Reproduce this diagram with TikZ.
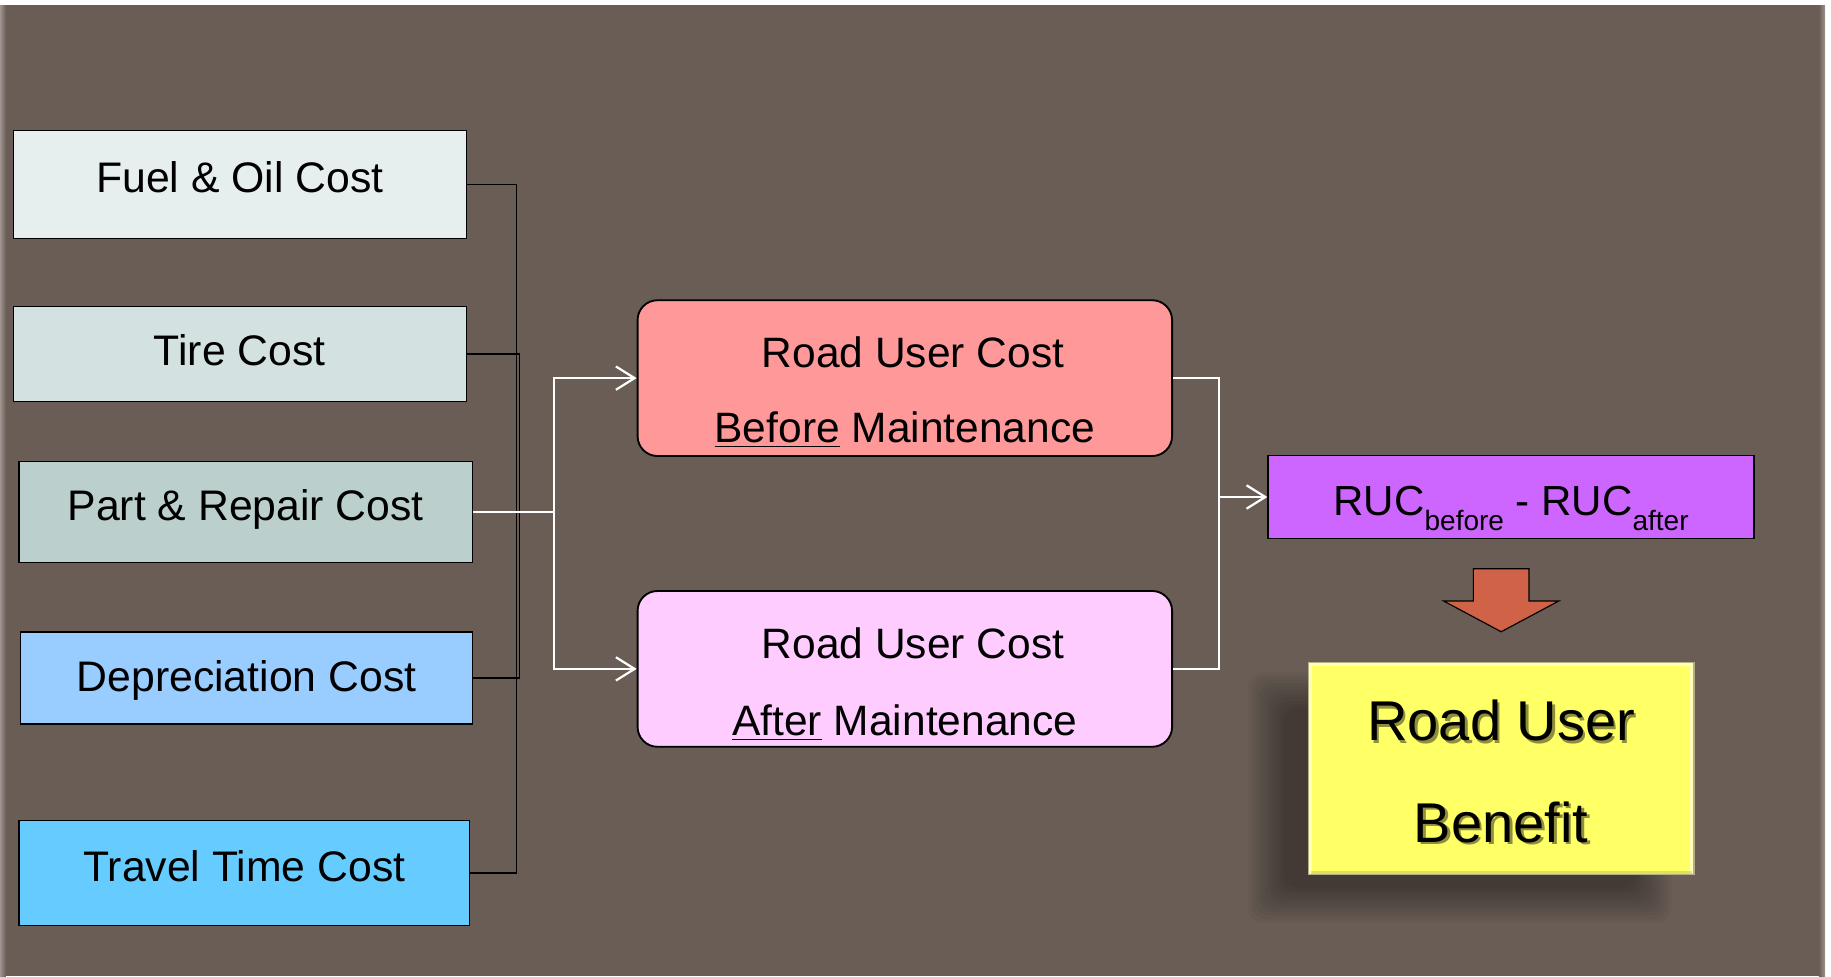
\documentclass[tikz,border=0pt]{standalone}
\usepackage{fontspec}
\setmainfont{Liberation Sans}
\usetikzlibrary{arrows.meta,calc}

\definecolor{bgbrown}{HTML}{695D55}
\definecolor{bevel}{HTML}{A09590}
\definecolor{fuelc}{HTML}{E6EFEE}
\definecolor{tirec}{HTML}{D3E1E0}
\definecolor{partc}{HTML}{BBCFCC}
\definecolor{depc}{HTML}{99CCFF}
\definecolor{travelc}{HTML}{66CCFF}
\definecolor{beforec}{HTML}{FF9999}
\definecolor{afterc}{HTML}{FFCCFF}
\definecolor{rucc}{HTML}{CC66FF}
\definecolor{benefitc}{HTML}{FFFF66}
\definecolor{benefitedge}{HTML}{B4AE84}
\definecolor{blockc}{HTML}{D06248}
\definecolor{textshade}{HTML}{8E8E3C}

% lowered, smaller subscript text
\newcommand\lowsub[1]{\raisebox{-6.4pt}{\fontsize{12}{12}\selectfont #1}}
% text with a soft offset shade behind it
\newcommand\shadetext[1]{\leavevmode\rlap{\hspace{1.1pt}\raisebox{-1.1pt}{\textcolor{textshade}{#1}}}#1}

\begin{document}
\begin{tikzpicture}[x=0.5pt,y=-0.5pt,
  costbox/.style={draw=black,line width=0.6pt,inner sep=0pt,anchor=north west,
    font=\fontsize{18.3}{22}\selectfont,text height=12pt,text depth=5pt},
  rucbox/.style={draw=black,line width=0.8pt,rounded corners=8.5pt,inner sep=0pt,
    anchor=north west,align=center,minimum width=228.85pt,minimum height=66.7pt},
  busline/.style={draw=black,line width=0.65pt},
  flowline/.style={draw=white,line width=0.95pt},
  flowarrow/.style={flowline,-{Straight Barb[length=8pt,width=10pt]}},
]
\useasboundingbox (0,0) rectangle (1568,836);

% page background with bevelled side edges
\fill[white] (0,0) rectangle (1568,836);
\fill[bgbrown] (0,4.3) rectangle (1563,836);
\shade[left color=bevel,right color=bgbrown] (0,4.3) rectangle (5,836);
\shade[left color=bgbrown,right color=bevel] (1557.5,4.3) rectangle (1563,836);

% cost components
\node[costbox,fill=fuelc,minimum width=194pt,minimum height=46.25pt] (fuel) at (10.8,111.3) {Fuel \& Oil Cost};
\node[costbox,fill=tirec,minimum width=194pt,minimum height=40.65pt,text depth=2pt] (tire) at (10.8,261.9) {Tire Cost};
\node[costbox,fill=partc,minimum width=194.15pt,minimum height=43.35pt] (part) at (15.7,394.6) {Part \& Repair Cost};
\node[costbox,fill=depc,minimum width=193.5pt,minimum height=39.35pt,text height=13pt,text depth=1.5pt] (dep) at (17,540.7) {Depreciation Cost};
\node[costbox,fill=travelc,minimum width=192.85pt,minimum height=45pt] (travel) at (15.8,702) {Travel Time Cost};

% road user cost boxes
\node[rucbox,fill=beforec,font=\fontsize{18.2}{32}\selectfont,text height=60pt,text depth=4.8pt] (before) at (545.2,256.3)
  {\hspace*{7pt}Road User Cost\\\underline{Before} Maintenance};
\node[rucbox,fill=afterc,font=\fontsize{18.2}{33}\selectfont,text height=61pt,text depth=3.6pt] (after) at (545.2,505.3)
  {\hspace*{7pt}Road User Cost\\\underline{After} Maintenance};

% difference box
\node[draw=black,line width=0.65pt,fill=rucc,inner sep=0pt,anchor=north west,
  minimum width=208.05pt,minimum height=35.55pt,font=\fontsize{18}{21.6}\selectfont,
  text height=25pt,text depth=9pt] (ruc) at (1085.3,389.4)
  {RUC\lowsub{before} - RUC\lowsub{after}};

% soft drop shadow of the result box
\foreach \r in {16,13,...,-14}
  \fill[black,fill opacity=0.035,rounded corners=6pt] ({1085-(\r)},{592-(\r)}) rectangle ({1415+(\r)},{774+(\r)});

% result box
\node[draw=benefitedge,line width=0.5pt,fill=benefitc,inner sep=0pt,anchor=north west,
  minimum width=165.15pt,minimum height=91.05pt,align=center,
  font=\fontsize{24}{43.5}\selectfont,text height=75pt,text depth=11.8pt] (benefit) at (1119.9,566.6)
  {\shadetext{Road User}\\\shadetext{Benefit}};
\draw[white,opacity=0.55,line width=1.4pt]
  ([shift={(2.5,-2.5)}]benefit.south west) -- ([shift={(2.5,2.5)}]benefit.north west)
  -- ([shift={(-2.5,2.5)}]benefit.north east) -- ([shift={(-2.5,-2.5)}]benefit.south east);
\draw[black,opacity=0.12,line width=1.4pt]
  ([shift={(2.5,-2.5)}]benefit.south west) -- ([shift={(-2.5,-2.5)}]benefit.south east);

% block arrow from the difference to the benefit
\filldraw[fill=blockc,draw=black,line width=0.5pt,line join=miter]
  ($(benefit.north)+(-23.8,-79.6)$) -- ($(benefit.north)+(23.8,-79.6)$)
  -- ($(benefit.north)+(23.8,-51.9)$) -- ($(benefit.north)+(49.25,-51.9)$)
  -- ($(benefit.north)+(0,-25.6)$) -- ($(benefit.north)+(-49.25,-51.9)$)
  -- ($(benefit.north)+(-23.8,-51.9)$) -- cycle;

% junction columns
\coordinate (busA) at (442.5,0);
\coordinate (busB) at (444.7,0);
\coordinate (splitL) at (474.4,0);
\coordinate (splitR) at (1044.1,0);

% black collector lines
\draw[busline] (fuel.east) -- (fuel.east -| busA) -- (travel.east -| busA) -- (travel.east);
\draw[busline] (tire.east) -- (tire.east -| busB) -- (dep.east -| busB) -- (dep.east);

% white flow lines
\draw[flowline] (part.east) -- (part.east -| splitL);
\draw[flowarrow] (part.east -| splitL) |- (before.west);
\draw[flowarrow] (part.east -| splitL) |- (after.west);
\draw[flowline] (before.east) -- (before.east -| splitR) -- (after.east -| splitR) -- (after.east);
\draw[flowarrow] (ruc.west -| splitR) -- (ruc.west);
\end{tikzpicture}
\end{document}
